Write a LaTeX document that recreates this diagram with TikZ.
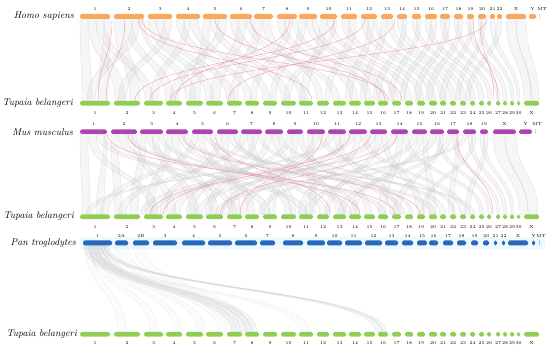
\documentclass[tikz,border=0pt]{standalone}
\usepackage{tikz}
\usetikzlibrary{positioning}
\definecolor{hsorange}{RGB}{250,168,92}
\definecolor{tbgreen}{RGB}{143,206,82}
\definecolor{mmpurple}{RGB}{170,70,176}
\definecolor{ptblue}{RGB}{38,104,186}
\definecolor{linkgrey}{RGB}{200,200,206}
\definecolor{linkred}{RGB}{240,140,152}
% ribbon between two chromosome rows: style, top y, bottom y, a1, a2, b1, b2
\newcommand{\synlink}[7]{%
  \filldraw[#1] (#4,#2) .. controls (#4,{(#2+#3)/2}) and (#6,{(#2+#3)/2}) .. (#6,#3)
    -- (#7,#3) .. controls (#7,{(#2+#3)/2}) and (#5,{(#2+#3)/2}) .. (#5,#2) -- cycle;}
% single red line: top y, bottom y, a, b
\newcommand{\invlink}[4]{%
  \draw[linkr] (#3,#1) .. controls (#3,{(#1+#2)/2}) and (#4,{(#1+#2)/2}) .. (#4,#2);}

\begin{document}
\begin{tikzpicture}[x=1pt, y=-1pt,
    bar/.style={rounded corners=1.6pt},
    chrnum/.style={font=\fontsize{4.4}{5}\selectfont, inner sep=0pt},
    species/.style={font=\fontsize{9.8}{11}\selectfont\itshape, anchor=east, inner sep=0pt},
    link/.style={fill=linkgrey, fill opacity=0.17, draw=linkgrey, draw opacity=0.55,
        line width=0.35pt},
    faint/.style={fill=linkgrey, fill opacity=0.08, draw=linkgrey, draw opacity=0.35,
        line width=0.3pt},
    linkr/.style={draw=linkred, line width=0.45pt, opacity=0.75}
]
    \useasboundingbox (0,0) rectangle (550,350);
    \fill[cyan!7] (80,237) rectangle (545,249);

    % Homo sapiens -> Tupaia belangeri
    \foreach \a/\b/\c/\d in {80/88/82/92, 88/96/115/125, 96/104/145/153, 104/110/98/108,
        114/124/130/140, 124/132/166/174, 132/140/87/95, 140/144/186/196, 148/156/206/214,
        156/164/227/235, 164/172/118/126, 176/184/245/252, 184/190/150/158, 190/198/263/270,
        203/210/190/200, 210/218/282/290, 218/227/170/178, 230/238/299/306, 238/246/210/220,
        246/252/333/340, 254/262/230/238, 262/270/317/323, 277/285/350/358, 285/292/250/256,
        292/297/365/372, 299/306/270/276, 306/312/378/386, 312/317/392/398, 320/327/300/308,
        327/333/405/412, 333/337/284/290, 341/349/417/424, 349/357/325/330, 361/368/429/436,
        368/374/345/352, 374/377/440/446, 381/387/360/366, 387/393/450/456, 397/403/460/466,
        403/407/373/380, 412/417/470/475, 417/421/388/394, 425/431/479/484, 431/437/400/405,
        440/445/488/492, 445/450/414/420, 454/458/497/500, 458/463/426/432, 467/470/503/507,
        470/474/440/446, 478/482/511/514, 482/486/456/460, 490/495/517/520, 497/502/466/470,
        506/516/524/532, 516/526/531/539}
        {\synlink{link}{19}{101}{\a}{\b}{\c}{\d}}
    \foreach \a/\b in {112/98, 125/106, 138/312, 142/388, 215/385, 250/402, 290/175,
        335/135, 365/150, 487/170, 395/228, 473/498, 480/494}
        {\invlink{19}{101}{\a}{\b}}

    % Mus musculus -> Tupaia belangeri
    \foreach \a/\b/\c/\d in {80/88/82/90, 88/96/150/158, 96/104/300/308, 104/107/96/104,
        111/118/114/122, 118/126/230/237, 126/132/380/386, 132/137/168/176, 140/146/130/138,
        146/152/262/270, 152/158/190/198, 158/163/345/352, 166/172/145/153, 172/178/210/218,
        178/184/320/328, 184/188/430/436, 192/198/100/108, 198/204/248/255, 204/210/470/475,
        210/213/285/292, 217/222/160/166, 222/228/232/240, 228/234/400/405, 234/238/355/360,
        241/247/118/126, 247/253/290/296, 253/258/186/194, 258/262/410/413, 265/272/205/212,
        272/278/336/344, 278/283/440/446, 287/293/172/180, 293/298/268/275, 298/303/365/372,
        307/313/310/316, 313/319/222/230, 319/325/453/456, 328/334/86/92, 334/340/390/398,
        340/346/240/246, 349/355/140/146, 355/361/298/305, 361/367/460/466, 370/376/195/202,
        376/382/325/330, 382/387/417/424, 391/397/150/156, 397/403/378/386, 403/408/480/484,
        412/418/258/264, 418/423/350/356, 423/427/428/436, 430/436/305/312, 436/440/488/492,
        440/444/393/400, 447/452/338/345, 452/456/497/500, 456/459/448/454, 463/468/215/222,
        468/472/503/507, 472/476/421/425, 480/484/511/514, 484/488/465/470, 493/505/520/528,
        505/516/528/538}
        {\synlink{link}{134}{214.5}{\a}{\b}{\c}{\d}}
    \foreach \a/\b in {107/395, 128/360, 182/420, 350/163, 397/220, 370/150, 322/240,
        457/493, 215/330}
        {\invlink{134}{214.5}{\a}{\b}}

    % Pan troglodytes -> Tupaia belangeri
    \foreach \a/\b/\c/\d in {84/90/232/238, 88/94/240/246, 92/98/247/252, 96/102/252/257,
        100/105/376/382, 104/108/382/386}
        {\synlink{link}{245.5}{332}{\a}{\b}{\c}{\d}}
    \foreach \a/\b/\c/\d in {85/92/118/126, 90/96/150/158, 95/100/175/182, 98/104/198/206,
        102/108/218/226, 115/128/228/236, 133/145/240/250, 86/94/300/310}
        {\synlink{faint}{245.5}{332}{\a}{\b}{\c}{\d}}

    % chromosome bars
    \foreach \a/\b/\n in {80/110/1, 114/144/2, 148/172/3, 176/200/4, 203/227/5, 230/252/6,
        254/273/7, 277/297/8, 299/317/9, 320/337/10, 341/357/11, 361/377/12, 381/393/13,
        397/407/14, 412/421/15, 425/437/16, 440/450/17, 454/463/18, 467/474/19, 478/486/20,
        490/495/21, 497/502/22, 506/526/X, 529/536/Y}
    {
        \fill[bar, hsorange] (\a,14) rectangle (\b,19);
        \node[chrnum] at ({(\a+\b)/2},9) {\n};
    }
    \fill[hsorange!50] (539,14) rectangle (540,19);
    \node[chrnum] at (542,9) {MT};

    \foreach \y/\t in {101/113, 214.5/227, 332/343}
    {
        \foreach \a/\b/\n in {80/110/1, 114/140/2, 144/163/3, 166/182/4, 186/203/5,
            206/223/6, 227/242/7, 245/259/8, 263/277/9, 281/296/10, 299/313/11, 317/329/12,
            333/346/13, 349/361/14, 364/375/15, 378/388/16, 392/401/17, 405/413/18,
            417/425/19, 429/437/20, 440/446/21, 450/456/22, 460/466/23, 470/475/24,
            479/484/25, 487/491/26, 496/500/27, 503/507/28, 510/514/29, 517/520/30, 524/539/X}
        {
            \fill[bar, tbgreen] (\a,\y) rectangle (\b,\y+4.6);
            \node[chrnum] at ({(\a+\b)/2},\t) {\n};
        }
    }

    \foreach \a/\b/\n in {80/107/1, 111/137/2, 140/163/3, 166/188/4, 192/213/5, 217/238/6,
        241/262/7, 265/283/8, 287/303/9, 307/325/10, 328/346/11, 349/367/12, 370/387/13,
        391/408/14, 412/427/15, 430/444/16, 447/459/17, 463/476/18, 480/488/19, 493/516/X,
        519/532/Y}
    {
        \fill[bar, mmpurple] (\a,129.5) rectangle (\b,134);
        \node[chrnum] at ({(\a+\b)/2},124) {\n};
    }
    \fill[mmpurple!30] (535,129.5) rectangle (536,134);
    \node[chrnum] at (537,124) {MT};

    \foreach \a/\b/\n in {83/112/1, 115/128/2A, 133/149/2B, 153/177/3, 182/205/4,
        208/232/5, 235/257/6, 260/275/7, 283/303/8, 307/325/9, 327/342/10, 345/362/11,
        365/382/12, 385/398/13, 402/413/14, 417/427/15, 429/438/16, 443/453/17, 457/466/18,
        471/478/19, 483/489/20, 494/497/21, 502/505/22, 508/528/X, 532/535/Y}
    {
        \fill[bar, ptblue] (\a,240.5) rectangle (\b,245.5);
        \node[chrnum] at ({(\a+\b)/2},236) {\n};
    }
    \fill[ptblue!40] (539,240.5) rectangle (540,245.5);
    \node[chrnum] at (541,236) {MT};

    % species names
    \node[species] (hsap) at (74,16.5) {Homo sapiens};
    \node[species] (tbel1) at (73,103) {Tupaia belangeri};
    \node[species] (mmus) at (73,132) {Mus musculus};
    \node[species] (tbel2) at (74,216.5) {Tupaia belangeri};
    \node[species] (ptro) at (76,243) {Pan troglodytes};
    \node[species] (tbel3) at (77,334.5) {Tupaia belangeri};
\end{tikzpicture}
\end{document}
